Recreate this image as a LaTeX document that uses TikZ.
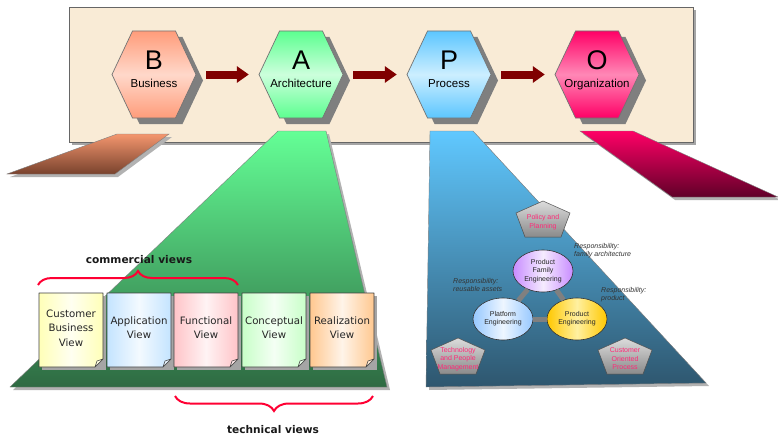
\documentclass[tikz,border=0pt]{standalone}
\usepackage{fontspec}
\setmainfont{Liberation Sans}
\newfontfamily\dvs{DejaVu Sans}
\usetikzlibrary{shapes.geometric,decorations.pathreplacing,calc,arrows.meta}
\definecolor{banner}{HTML}{F9EBD6}
\definecolor{arrowred}{HTML}{800000}
\definecolor{bracered}{HTML}{FF0033}
\definecolor{pinktext}{HTML}{FF2A78}
\definecolor{shadowgray}{HTML}{7F7F7F}
\definecolor{pentTop}{HTML}{DCDCDC}
\definecolor{pentBot}{HTML}{8A8A8A}
\definecolor{resptext}{HTML}{333333}
\definecolor{hexBt}{HTML}{FF9C7A}
\definecolor{hexBm}{HTML}{FFD8CA}
\definecolor{hexAt}{HTML}{5CFF90}
\definecolor{hexAm}{HTML}{CCFFDC}
\definecolor{hexPt}{HTML}{5CC6FF}
\definecolor{hexPm}{HTML}{CCEEFF}
\definecolor{hexOt}{HTML}{FF0066}
\definecolor{hexOm}{HTML}{FF88B6}
\definecolor{vYel}{HTML}{FFFFB8}
\definecolor{vBlu}{HTML}{C4E4FF}
\definecolor{vPnk}{HTML}{FFC4C8}
\definecolor{vGrn}{HTML}{C8FFC8}
\definecolor{vOrg}{HTML}{FFC890}
\newcommand\hexnode[6]{%
 \begin{scope}[shift={(#2,74.5)}]
  \fill[shadowgray] (-35,6) -- (-14.5,-37.5) -- (28.5,-37.5) -- (49,6) -- (28.5,49.5) -- (-14.5,49.5) -- cycle;
  \draw[hexline, top color=#3, bottom color=#3, middle color=#4] (-42,0) -- (-21.5,-43.5) -- (21.5,-43.5) -- (42,0) -- (21.5,43.5) -- (-21.5,43.5) -- cycle;
 \end{scope}
 \node[hexbox] (#1) at (#2,74.5) {};
 \node[bigletter] (#1l) at (#2,70) {#5};
 \node[hexword] (#1w) at (#2,87.5) {#6};
}
\newcommand\viewbox[4]{%
 \begin{scope}[shift={(#2,330)}]
  \fill[shadowgray!70] (-29,-34) rectangle (35,40);
  \draw[boxline, left color=#3, right color=#3, middle color=#3!20!white] (-32,-37) -- (32,-37) -- (32,29) -- (24,37) -- (-32,37) -- cycle;
  \filldraw[boxline, fill=#3!40!white] (24,37) -- (32,29) -- (26,31) -- cycle;
 \end{scope}
 \node[viewtext] (#1) at (#2,328) {#4};
}
\newcommand\pentnode[4]{%
 \begin{scope}[shift={(#2,#3)}]
  \draw[pentline, top color=pentTop, bottom color=pentBot] (0,0) -- (27,12) -- (18,36) -- (-18,36) -- (-27,12) -- cycle;
 \end{scope}
 \node[penttext] (#1) at (#2,#3+21) {#4};
}
\tikzset{
 hexline/.style={draw=black!55, line width=0.7pt},
 hexbox/.style={minimum width=84pt, minimum height=87pt, inner sep=0pt},
 bigletter/.style={anchor=base, inner sep=0pt, font=\fontsize{27}{27}\selectfont},
 hexword/.style={anchor=base, inner sep=0pt, font=\fontsize{11.5}{12}\selectfont},
 bigarrow/.style={line width=8pt, arrowred, -{Triangle[length=12pt,width=16pt]}},
 boxline/.style={draw=black!75, line width=0.6pt, line join=round},
 viewtext/.style={align=center, inner sep=0pt, text=black!85, font=\dvs\fontsize{10.2}{14.3}\selectfont},
 bracetext/.style={inner sep=0pt, text=black!90, font=\dvs\bfseries\fontsize{10.6}{12}\selectfont},
 bracestyle/.style={draw=bracered, line width=2pt, decorate},
 trapshadow/.style={fill=shadowgray!60},
 pentline/.style={draw=black!70, line width=0.5pt},
 penttext/.style={align=center, inner sep=0pt, text=pinktext, font=\fontsize{7}{8.5}\selectfont},
 ell/.style={ellipse, minimum width=60pt, minimum height=42pt, inner sep=0pt, draw=black!80, line width=0.6pt, align=center, text=black!85, font=\fontsize{7}{8.3}\selectfont},
 link/.style={draw=black!50, line width=5pt},
 resp/.style={anchor=north west, align=left, inner sep=0pt, text=resptext, font=\itshape\fontsize{7}{8}\selectfont}
}
\begin{document}
\begin{tikzpicture}[x=1pt,y=-1pt]
\useasboundingbox (0,0) rectangle (778,436);
% banner
\fill[shadowgray!70] (72,10) rectangle (696,145);
\draw[draw=black!60, fill=banner, line width=0.6pt] (69,7) rectangle (693,142);
% hexagons
\hexnode{b}{154}{hexBt}{hexBm}{B}{Business}
\hexnode{a}{301}{hexAt}{hexAm}{A}{Architecture}
\hexnode{p}{449}{hexPt}{hexPm}{P}{Process}
\hexnode{o}{597}{hexOt}{hexOm}{O}{Organization}
\draw[bigarrow] ([xshift=10pt]b.east) -- ([xshift=-10pt]a.west);
\draw[bigarrow] ([xshift=10pt]a.east) -- ([xshift=-10pt]p.west);
\draw[bigarrow] ([xshift=10pt]p.east) -- ([xshift=-10pt]o.west);
% trapezoids
\fill[trapshadow] (120,137) -- (172,137) -- (118,177) -- (10,177) -- cycle;
\draw[draw=black!50, line width=0.4pt, top color={rgb,255:red,244;green,150;blue,110}, bottom color={rgb,255:red,120;green,66;blue,45}] (117,134) -- (169,134) -- (115,174) -- (7,174) -- cycle;
\fill[trapshadow] (281,134) -- (329,134) -- (390,390) -- (13,390) -- cycle;
\draw[draw=black!50, line width=0.4pt, top color={rgb,255:red,100;green,255;blue,150}, bottom color={rgb,255:red,46;green,106;blue,66}] (278,131) -- (326,131) -- (387,387) -- (10,387) -- cycle;
\fill[trapshadow] (433,134) -- (476,134) -- (709,386) -- (429,390) -- cycle;
\draw[draw=black!50, line width=0.4pt, top color={rgb,255:red,96;green,200;blue,255}, bottom color={rgb,255:red,46;green,86;blue,110}] (430,131) -- (473,131) -- (706,383) -- (426,387) -- cycle;
\fill[trapshadow] (583,134) -- (636,134) -- (781,200) -- (675,200) -- cycle;
\draw[draw=black!50, line width=0.4pt, top color={rgb,255:red,255;green,0;blue,102}, bottom color={rgb,255:red,96;green,0;blue,40}] (580,131) -- (633,131) -- (778,197) -- (672,197) -- cycle;
% views
\viewbox{cbv}{71}{vYel}{Customer\\Business\\View}
\viewbox{apv}{139}{vBlu}{Application\\View}
\viewbox{fnv}{206}{vPnk}{Functional\\View}
\viewbox{cnv}{274}{vGrn}{Conceptual\\View}
\viewbox{rlv}{342}{vOrg}{Realization\\View}
% braces
\coordinate (c1) at (38,285);
\coordinate (c2) at (238,285);
\coordinate (t1) at (373,396);
\coordinate (t2) at (175,396);
\draw[bracestyle, decoration={brace, amplitude=14pt}] (c1) -- (c2);
\draw[bracestyle, decoration={brace, amplitude=15pt}] (t1) -- (t2);
\node[bracetext] (comm) at (139,260) {commercial views};
\node[bracetext] (tech) at (273,430) {technical views};
% process content
\pentnode{pp}{543}{201}{Policy and\\Planning}
\pentnode{tp}{458}{338}{Technology\\and People\\Management}
\pentnode{cp}{625}{338}{Customer\\Oriented\\Process}
\node[ell, left color={rgb,255:red,200;green,140;blue,255}, right color={rgb,255:red,200;green,140;blue,255}, middle color={rgb,255:red,245;green,235;blue,255}] (pfe) at (543,271) {Product\\Family\\Engineering};
\node[ell, left color={rgb,255:red,150;green,200;blue,255}, right color={rgb,255:red,150;green,200;blue,255}, middle color={rgb,255:red,238;green,246;blue,255}] (ple) at (503,319) {Platform\\Engineering};
\node[ell, left color={rgb,255:red,255;green,200;blue,0}, right color={rgb,255:red,255;green,200;blue,0}, middle color={rgb,255:red,255;green,240;blue,160}] (pre) at (577,319) {Product\\Engineering};
\draw[link] (pfe) -- (ple);
\draw[link] (pfe) -- (pre);
\draw[link] (ple) -- (pre);
\node[resp] (r1) at (574,243.5) {Responsibility:\\family architecture};
\node[resp] (r2) at (453,278.5) {Responsibility:\\reusable assets};
\node[resp] (r3) at (601,287.5) {Responsibility:\\product};
\end{tikzpicture}
\end{document}
